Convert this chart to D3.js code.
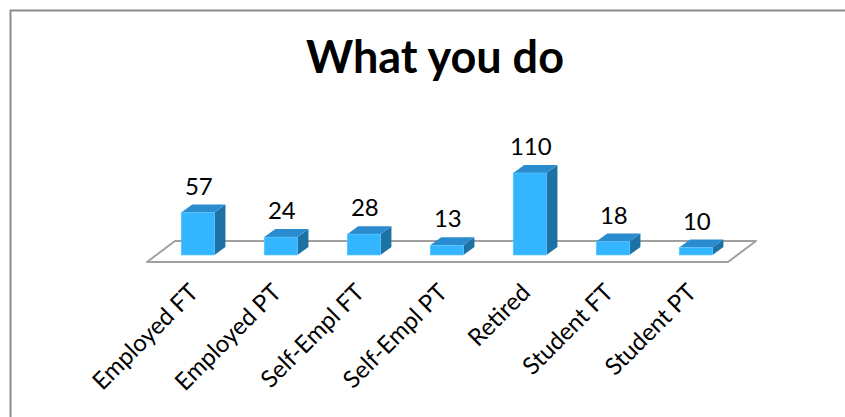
<!DOCTYPE html>
<html>
<head>
<meta charset="utf-8">
<script src="https://cdn.jsdelivr.net/npm/d3@7"></script>
<style>
  body { margin: 0; background: #fff; }
  svg { display: block; }
  text { font-family: Lato, "Open Sans", sans-serif; fill: #000; }
</style>
</head>
<body>
<div id="chart"></div>
<script>
var categories = ["Employed FT", "Employed PT", "Self-Empl FT", "Self-Empl PT", "Retired", "Student FT", "Student PT"];
var values = [57, 24, 28, 13, 110, 18, 10];
var title = "What you do";

var width = 845, height = 417;

var svg = d3.select("#chart").append("svg")
    .attr("width", width)
    .attr("height", height);

// chart frame (runs off the right and bottom edge)
svg.append("rect")
    .attr("x", 10.5).attr("y", 10.5)
    .attr("width", 900).attr("height", 500)
    .attr("fill", "none")
    .attr("stroke", "#8c8c8c")
    .attr("stroke-width", 2);

svg.append("text")
    .attr("x", 435).attr("y", 73)
    .attr("text-anchor", "middle")
    .style("font-size", "45px")
    .style("font-weight", "bold")
    .text(title);

var floorY = 262;
var depth = [28, -21];      // floor depth offset
var barDepth = [11, -8];    // bar depth offset

var x = d3.scaleBand()
    .domain(categories)
    .range([147, 728])
    .padding(0);

var y = d3.scaleLinear()
    .domain([0, 110])
    .range([0, 82]);

var barW = x.bandwidth() * 0.4;

// floor
var x0 = x.range()[0], x1 = x.range()[1];
svg.append("path")
    .attr("d", "M" + x0 + "," + floorY +
        "L" + x1 + "," + floorY +
        "L" + (x1 + depth[0]) + "," + (floorY + depth[1]) +
        "L" + (x0 + depth[0]) + "," + (floorY + depth[1]) + "Z")
    .attr("fill", "none")
    .attr("stroke", "#a0a0a0")
    .attr("stroke-width", 2)
    .attr("stroke-linejoin", "round");

// bars sit a third of the way into the floor
var shiftX = depth[0] / 3, baseY = floorY + depth[1] / 3;

var bars = svg.selectAll("g.bar")
    .data(categories)
    .enter().append("g")
    .attr("class", "bar");

bars.each(function(c, i) {
    var g = d3.select(this);
    var h = y(values[i]);
    var l = x(c) + (x.bandwidth() - barW) / 2 + shiftX;
    var r = l + barW;
    var t = baseY - h;
    var dx = barDepth[0], dy = barDepth[1];

    // side
    g.append("path")
        .attr("d", "M" + r + "," + t + "L" + (r + dx) + "," + (t + dy) +
            "L" + (r + dx) + "," + (baseY + dy) + "L" + r + "," + baseY + "Z")
        .attr("fill", "#1d72a5");
    // top
    g.append("path")
        .attr("d", "M" + l + "," + t + "L" + (l + dx) + "," + (t + dy) +
            "L" + (r + dx) + "," + (t + dy) + "L" + r + "," + t + "Z")
        .attr("fill", "#2a8ccf");
    // front
    g.append("rect")
        .attr("x", l).attr("y", t)
        .attr("width", barW).attr("height", h)
        .attr("fill", "#33b6ff")
        .attr("stroke", "#5cc6ff")
        .attr("stroke-width", 0.6);

    g.append("text")
        .attr("x", l + barW / 2 + 1)
        .attr("y", t - 18)
        .attr("text-anchor", "middle")
        .style("font-size", "24px")
        .text(values[i]);
});

// category labels, rotated
svg.selectAll("text.cat")
    .data(categories)
    .enter().append("text")
    .attr("class", "cat")
    .attr("text-anchor", "end")
    .attr("transform", function(d) {
        var cx = x(d) + x.bandwidth() / 2 + shiftX + 2;
        return "translate(" + cx + "," + 294 + ") rotate(-45)";
    })
    .style("font-size", "24px")
    .text(function(d) { return d; });
</script>
</body>
</html>
